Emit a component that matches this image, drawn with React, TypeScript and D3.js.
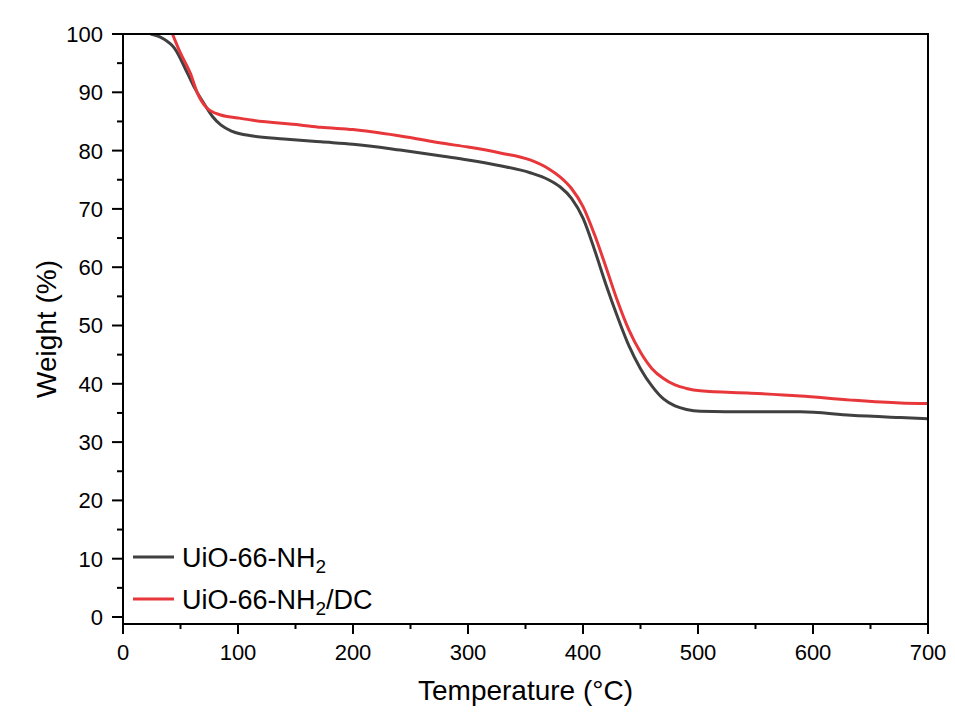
import React from "react";
import * as d3 from "d3";

const tempA = [24, 35, 45, 56, 63, 70, 78, 85, 95, 113, 140, 172, 200, 241, 280, 300, 328, 354, 370, 380, 390, 400, 410, 420, 430, 440, 450, 460, 470, 480, 490, 502, 546, 589, 633, 676, 700];
const weightA = [100, 99.2, 97.5, 93.3, 90.5, 88.2, 85.8, 84.4, 83.3, 82.5, 82, 81.5, 81.1, 80.1, 79, 78.4, 77.4, 76.2, 75.0, 73.8, 71.8, 68.4, 63, 57, 51.5, 46.5, 42.6, 39.6, 37.4, 36.2, 35.6, 35.3, 35.2, 35.2, 34.6, 34.2, 34.0];

const tempB = [43, 50, 58.5, 64.6, 73, 85, 100, 113, 154, 172, 200, 241, 280, 300, 328, 354, 370, 380, 390, 400, 410, 420, 430, 440, 450, 460, 470, 480, 490, 502, 546, 589, 633, 676, 700];
const weightB = [100, 96.7, 93.3, 89.9, 87.3, 86.1, 85.6, 85.2, 84.4, 84, 83.6, 82.5, 81.2, 80.6, 79.6, 78.4, 76.9, 75.5, 73.5, 70.4, 65.6, 60, 54.2, 49.2, 45.4, 42.6, 40.9, 39.8, 39.2, 38.8, 38.4, 37.9, 37.2, 36.7, 36.6];

const xTicks = [0, 100, 200, 300, 400, 500, 600, 700];
const yTicks = [0, 10, 20, 30, 40, 50, 60, 70, 80, 90, 100];
const seriesNames = ["UiO-66-NH", "UiO-66-NH"];
const seriesSuffix = ["", "/DC"];
const colors = ["#404040", "#e8373b"];

const W = 955;
const H = 715;
const left = 123;
const right = 928;
const top = 34;
const bottom = 624;
const font = "'Liberation Sans', Arial, sans-serif";

export default function App() {
  const x = d3.scaleLinear().domain([0, 700]).range([left, right]);
  const y = d3.scaleLinear().domain([-1.2, 100]).range([bottom, top]);
  const line = d3
    .line<[number, number]>()
    .x((d) => x(d[0]))
    .y((d) => y(d[1]))
    .curve(d3.curveMonotoneX);

  const dataA: [number, number][] = tempA.map((t, i) => [t, weightA[i]]);
  const dataB: [number, number][] = tempB.map((t, i) => [t, weightB[i]]);

  const xMinor = d3.range(50, 700, 100);
  const yMinor = d3.range(5, 100, 10);

  return (
    <svg
      width={W}
      height={H}
      style={{ position: "absolute", left: 0, top: 0, background: "#fff" }}
      fontFamily={font}
    >
      <rect x={0} y={0} width={W} height={H} fill="#fff" />
      <defs>
        <clipPath id="clip">
          <rect x={left} y={top} width={right - left} height={bottom - top} />
        </clipPath>
      </defs>
      <g clipPath="url(#clip)">
        <path d={line(dataA) || ""} fill="none" stroke={colors[0]} strokeWidth={3} />
        <path d={line(dataB) || ""} fill="none" stroke={colors[1]} strokeWidth={3} />
      </g>
      <rect x={left} y={top} width={right - left} height={bottom - top} fill="none" stroke="#000" strokeWidth={2} />
      {yTicks.map((t) => (
        <g key={"y" + t}>
          <line x1={left - 11} x2={left} y1={y(t)} y2={y(t)} stroke="#000" strokeWidth={2} />
          <text x={left - 20} y={y(t)} dy="0.36em" textAnchor="end" fontSize={22} fill="#000">
            {t}
          </text>
        </g>
      ))}
      {yMinor.map((t) => (
        <line key={"ym" + t} x1={left - 6} x2={left} y1={y(t)} y2={y(t)} stroke="#000" strokeWidth={2} />
      ))}
      {xTicks.map((t) => (
        <g key={"x" + t}>
          <line x1={x(t)} x2={x(t)} y1={bottom} y2={bottom + 10} stroke="#000" strokeWidth={2} />
          <text x={x(t)} y={660} textAnchor="middle" fontSize={22} fill="#000">
            {t}
          </text>
        </g>
      ))}
      {xMinor.map((t) => (
        <line key={"xm" + t} x1={x(t)} x2={x(t)} y1={bottom} y2={bottom + 5} stroke="#000" strokeWidth={2} />
      ))}
      <text x={(left + right) / 2} y={700} textAnchor="middle" fontSize={28} fill="#000">
        Temperature (°C)
      </text>
      <text
        transform={`translate(56,${(top + bottom) / 2}) rotate(-90)`}
        textAnchor="middle"
        fontSize={28}
        fill="#000"
      >
        Weight (%)
      </text>
      {seriesNames.map((name, i) => {
        const ly = 557 + i * 42;
        return (
          <g key={"lg" + i}>
            <line x1={133} x2={174} y1={ly} y2={ly} stroke={colors[i]} strokeWidth={3} />
            <text x={182} y={ly + 10} fontSize={27} fill="#000">
              {name}
              <tspan fontSize={19} dy={6}>2</tspan>
              {seriesSuffix[i] ? <tspan dy={-6}>{seriesSuffix[i]}</tspan> : null}
            </text>
          </g>
        );
      })}
    </svg>
  );
}
